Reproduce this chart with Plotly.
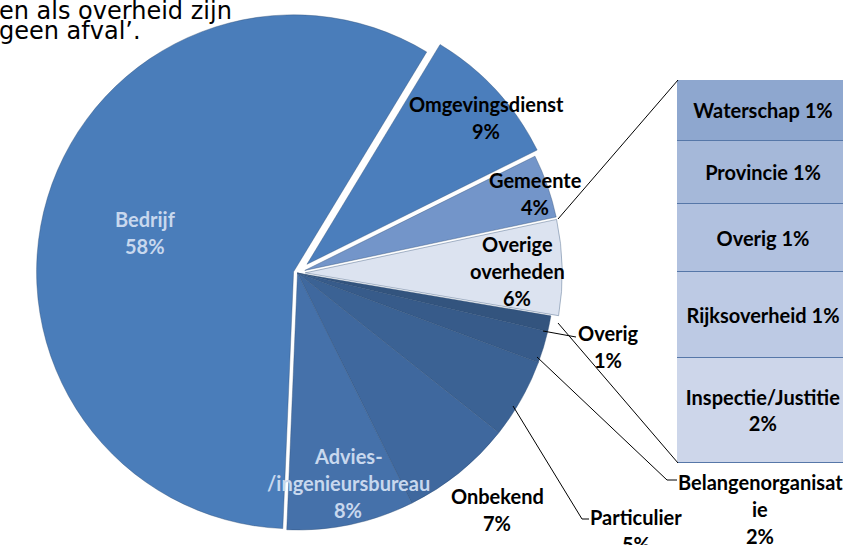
import plotly.graph_objects as go

W, H = 843, 545

# ---------------- data ----------------
pie_labels = ["Omgevingsdienst", "Gemeente", "Overige overheden", "Overig",
              "Belangenorganisatie", "Particulier", "Onbekend",
              "Advies-/ingenieursbureau", "Bedrijf"]
pie_values = [9, 4, 6, 1, 2, 5, 7, 8, 58]

bar_labels = ["Inspectie/Justitie", "Rijksoverheid", "Overig", "Provincie", "Waterschap"]
bar_values = [1.65, 1.35, 1.05, 1.0, 0.95]
bar_pct = [2, 1, 1, 1, 1]

intro_lines = ["en als overheid zijn", "geen afval\u2019."]

# ---------------- styles ----------------
pie_colors = ["#4B7EBC", "#7395C9", "#DCE3F0", "#33547E", "#375B8A",
              "#3B6294", "#3F689E", "#4571AA", "#4A7DBA"]
pie_pull = [0.05, 0.03, 0.03, 0, 0, 0, 0, 0, 0.016]
bar_colors = ["#CDD6EA", "#BDCAE4", "#B1C1DF", "#A5B8D9", "#8EA7CF"]
bar_sep = ["<br>", " ", " ", " ", " "]

FONT = "Lato"
FS = 20
PALE = "#C8D8EE"


def px(x):
    return x / W


def py(y):
    return 1 - y / H


# pie geometry (pixels)
cx, cy, r = 297.5, 273.0, 257.0
rr = r * (1 + max(pie_pull))

fig = go.Figure()

fig.add_trace(go.Pie(
    labels=pie_labels, values=pie_values, sort=False, direction="clockwise",
    rotation=31.2, pull=pie_pull, textinfo="none", hoverinfo="label+percent",
    marker=dict(colors=pie_colors,
                line=dict(color="rgba(45,75,115,0.55)", width=0.7)),
    domain=dict(x=[px(cx - rr), px(cx + rr)], y=[py(cy + rr), py(cy - rr)]),
    showlegend=False,
))

for lab, val, pct, col, sep in zip(bar_labels, bar_values, bar_pct, bar_colors, bar_sep):
    fig.add_trace(go.Bar(
        x=[0.52], y=[val], width=[1.06], name=lab,
        marker=dict(color=col, line=dict(color="#5677A8", width=1)),
        text=[f"<b>{lab}{sep}{pct}%</b>"], textposition="inside",
        insidetextanchor="middle", textangle=0, constraintext="none",
        textfont=dict(family=FONT, size=FS, color="black"),
        cliponaxis=True, showlegend=False, hoverinfo="name+y",
    ))

# ---------------- labels for pie ----------------
# name -> (line pieces of name, x center, y of first line, color)
pie_label_pos = {
    "Omgevingsdienst": (["Omgevingsdienst"], 486, 104, "black"),
    "Gemeente": (["Gemeente"], 535, 180, "black"),
    "Overige overheden": (["Overige", "overheden"], 517, 244, "black"),
    "Overig": (["Overig"], 608, 333, "black"),
    "Belangenorganisatie": (["Belangenorganisat", "ie"], 760, 482, "black"),
    "Particulier": (["Particulier"], 636, 517, "black"),
    "Onbekend": (["Onbekend"], 497, 496, "black"),
    "Advies-/ingenieursbureau": (["Advies-", "/ingenieursbureau"], 348, 456, PALE),
    "Bedrijf": (["Bedrijf"], 145, 219, PALE),
}
SP = 27
annotations = []
for lab, val in zip(pie_labels, pie_values):
    pieces, x0, y0, col = pie_label_pos[lab]
    lines = pieces + [f"{val}%"]
    for i, t in enumerate(lines):
        annotations.append(dict(
            x=px(x0), y=py(y0 + i * SP), xref="paper", yref="paper",
            text=f"<b>{t}</b>", showarrow=False, xanchor="center", yanchor="middle",
            font=dict(family=FONT, size=FS, color=col)))

for i, t in enumerate(intro_lines):
    annotations.append(dict(
        x=px(-3), y=py(11 + i * 20), xref="paper", yref="paper", text=t,
        showarrow=False, xanchor="left", yanchor="middle",
        font=dict(family="DejaVu Sans", size=24, color="black")))

# ---------------- leader / connector lines ----------------
paths = [
    [(543, 331), (576, 337)],
    [(537, 357), (667, 480), (677, 480)],
    [(513, 406), (582, 519), (589, 519)],
    [(558, 219), (678, 80)],
    [(558, 323), (678, 463)],
]
shapes = []
for pts in paths:
    d = "M " + " L ".join(f"{px(a)},{py(b)}" for a, b in pts)
    shapes.append(dict(type="path", xref="paper", yref="paper", path=d,
                       line=dict(color="black", width=1)))

bar_top, bar_bot, bar_left = 80, 463, 677
fig.update_layout(
    width=W, height=H, margin=dict(l=0, r=0, t=0, b=0),
    paper_bgcolor="white", plot_bgcolor="rgba(0,0,0,0)",
    barmode="stack", bargap=0,
    xaxis=dict(domain=[px(bar_left), 1], range=[-0.005, 1], visible=False, fixedrange=True),
    yaxis=dict(domain=[py(bar_bot), py(bar_top)], range=[0, sum(bar_values)],
               visible=False, fixedrange=True),
    annotations=annotations, shapes=shapes, showlegend=False,
)

fig.write_html("out.html", config={"displayModeBar": False},
               post_script="document.body.style.margin='0';document.body.style.overflow='hidden';")
